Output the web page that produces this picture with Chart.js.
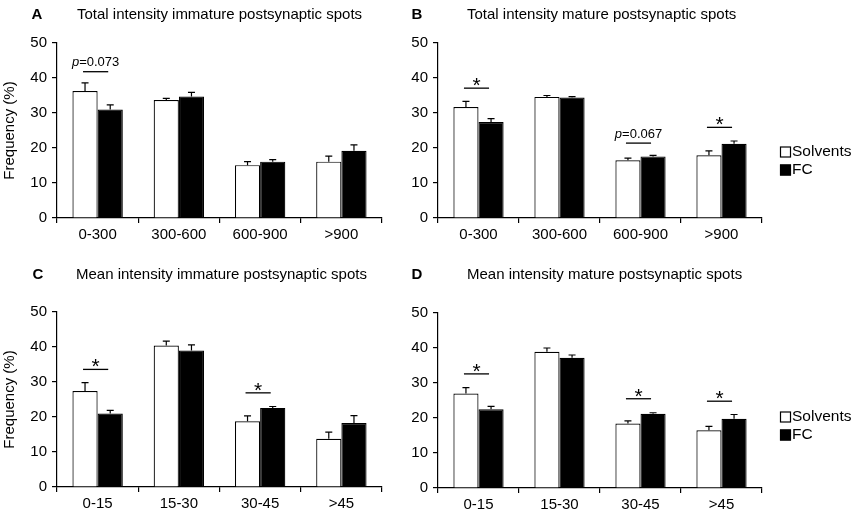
<!DOCTYPE html>
<html>
<head>
<meta charset="utf-8">
<script src="https://cdn.jsdelivr.net/npm/chart.js@4.4.0/dist/chart.umd.min.js"></script>
<style>
  body { margin: 0; background: #fff; width: 851px; height: 513px; position: relative; overflow: hidden; }
  .panel { position: absolute; }
</style>
</head>
<body>
<div class="panel" style="left:0;top:0;width:400px;height:256px"><canvas id="chartA"></canvas></div>
<div class="panel" style="left:400px;top:0;width:451px;height:256px"><canvas id="chartB"></canvas></div>
<div class="panel" style="left:0;top:256px;width:400px;height:257px"><canvas id="chartC"></canvas></div>
<div class="panel" style="left:400px;top:256px;width:451px;height:257px"><canvas id="chartD"></canvas></div>
<script>
// Data ---

const totalBins = ["0-300", "300-600", "600-900", ">900"];
const meanBins = ["0-15", "15-30", "30-45", ">45"];

// A: total intensity, immature spots
const solventsA = [36.3, 33.7, 15.1, 16.1];
const solventsErrA = [2.3, 0.5, 1.0, 1.6];
const fcA = [31.0, 34.7, 16.1, 19.2];
const fcErrA = [1.3, 1.2, 0.6, 1.7];
const sigA = [{ index: 0, level: 41.8, text: "p=0.073" }];

// B: total intensity, mature spots
const solventsB = [31.7, 34.6, 16.5, 17.9];
const solventsErrB = [1.6, 0.4, 0.6, 1.3];
const fcB = [27.4, 34.4, 17.6, 21.2];
const fcErrB = [1.0, 0.3, 0.3, 0.8];
const sigB = [
  { index: 0, level: 37.1, text: "*" },
  { index: 2, level: 21.4, text: "p=0.067" },
  { index: 3, level: 25.9, text: "*" },
];

// C: mean intensity, immature spots
const solventsC = [27.4, 40.4, 18.8, 13.8];
const solventsErrC = [2.4, 1.3, 1.5, 1.9];
const fcC = [21.0, 39.0, 22.6, 18.3];
const fcErrC = [0.9, 1.6, 0.4, 2.1];
const sigC = [
  { index: 0, level: 33.6, text: "*" },
  { index: 2, level: 26.9, text: "*" },
];

// D: mean intensity, mature spots
const solventsD = [27.0, 38.9, 18.4, 16.5];
const solventsErrD = [1.7, 1.1, 0.8, 1.1];
const fcD = [22.5, 37.2, 21.2, 19.8];
const fcErrD = [0.8, 0.8, 0.3, 1.2];
const sigD = [
  { index: 0, level: 32.6, text: "*" },
  { index: 2, level: 25.5, text: "*" },
  { index: 3, level: 24.8, text: "*" },
];

const FONT = "Arial, 'Liberation Sans', sans-serif";

// Plugins ---

const errorBars = {
  id: "errorBars",
  afterDatasetsDraw(chart) {
    const { ctx } = chart;
    const y = chart.scales.y;

    ctx.save();
    ctx.strokeStyle = "#000";
    ctx.lineWidth = 1.2;

    chart.data.datasets.forEach((ds, i) => {
      chart.getDatasetMeta(i).data.forEach((bar, j) => {
        const top = y.getPixelForValue(ds.data[j] + ds.errors[j]);

        ctx.beginPath();
        ctx.moveTo(bar.x, bar.y);
        ctx.lineTo(bar.x, top);
        ctx.moveTo(bar.x - 3.5, top);
        ctx.lineTo(bar.x + 3.5, top);
        ctx.stroke();
      });
    });

    ctx.restore();
  },
};

const sigMarks = {
  id: "sigMarks",
  afterDatasetsDraw(chart, _args, opts) {
    const { ctx } = chart;
    const y = chart.scales.y;
    const left = chart.getDatasetMeta(0).data;
    const right = chart.getDatasetMeta(1).data;

    ctx.save();
    ctx.strokeStyle = "#000";
    ctx.fillStyle = "#000";
    ctx.lineWidth = 1.3;

    (opts.marks || []).forEach((mark) => {
      const x1 = left[mark.index].x - 2;
      const x2 = right[mark.index].x - 2;
      const ly = y.getPixelForValue(mark.level);
      const mid = (x1 + x2) / 2;

      ctx.beginPath();
      ctx.moveTo(x1, ly);
      ctx.lineTo(x2, ly);
      ctx.stroke();

      if (mark.text === "*") {
        ctx.font = "21px " + FONT;
        ctx.textAlign = "center";
        ctx.textBaseline = "alphabetic";
        ctx.fillText("*", mid, ly + 4);
      } else {
        // italic "p", upright rest
        const rest = mark.text.slice(1);
        ctx.textAlign = "left";
        ctx.textBaseline = "middle";
        ctx.font = "italic 13px " + FONT;
        const wp = ctx.measureText("p").width;
        ctx.font = "13px " + FONT;
        const wr = ctx.measureText(rest).width;
        const x0 = mid - (wp + wr) / 2;

        ctx.font = "italic 13px " + FONT;
        ctx.fillText("p", x0, ly - 9);
        ctx.font = "13px " + FONT;
        ctx.fillText(rest, x0 + wp, ly - 9);
      }
    });

    ctx.restore();
  },
};

const panelHeader = {
  id: "panelHeader",
  afterDraw(chart, _args, opts) {
    const { ctx } = chart;

    ctx.save();
    ctx.fillStyle = "#000";
    ctx.textBaseline = "middle";
    ctx.textAlign = "center";
    ctx.font = "bold 15px " + FONT;
    ctx.fillText(opts.letter, opts.letterX, opts.y);
    ctx.textAlign = "left";
    ctx.font = "15px " + FONT;
    ctx.fillText(opts.title, opts.titleX, opts.y);
    ctx.restore();
  },
};

const sideLegend = {
  id: "sideLegend",
  afterDraw(chart, _args, opts) {
    if (!opts.show) return;
    const { ctx } = chart;

    ctx.save();
    ctx.textBaseline = "middle";
    ctx.textAlign = "left";
    ctx.font = "15.5px " + FONT;

    chart.data.datasets.forEach((ds, i) => {
      const cy = opts.y + i * 18;

      ctx.fillStyle = ds.backgroundColor;
      ctx.fillRect(opts.x, cy - 5.5, 11, 11);
      ctx.strokeStyle = "#000";
      ctx.lineWidth = 1.2;
      ctx.strokeRect(opts.x + 0.5, cy - 5, 10, 10);
      ctx.fillStyle = "#000";
      ctx.fillText(ds.label, opts.x + 12, cy);
    });

    ctx.restore();
  },
};

// Charts ---

function buildChart(id, cfg) {
  const datasets = [
    {
      label: "Solvents",
      data: cfg.solvents,
      errors: cfg.solventsErr,
      backgroundColor: "#ffffff",
      borderColor: "#000000",
      borderWidth: 1.2,
    },
    {
      label: "FC",
      data: cfg.fc,
      errors: cfg.fcErr,
      backgroundColor: "#000000",
      borderColor: "#000000",
      borderWidth: 1.2,
    },
  ];

  return new Chart(document.getElementById(id), {
    type: "bar",
    data: { labels: cfg.labels, datasets: datasets },
    plugins: [errorBars, sigMarks, panelHeader, sideLegend],
    options: {
      animation: false,
      responsive: true,
      maintainAspectRatio: false,
      devicePixelRatio: 1,
      datasets: {
        bar: { categoryPercentage: 0.62, barPercentage: 1.0 },
      },
      layout: {
        padding: { left: 0, top: cfg.top, right: cfg.right, bottom: 0 },
      },
      plugins: {
        legend: { display: false },
        tooltip: { enabled: false },
        sigMarks: { marks: cfg.sig },
        panelHeader: cfg.header,
        sideLegend: cfg.legend,
      },
      scales: {
        x: {
          grid: {
            display: true,
            offset: true,
            drawOnChartArea: false,
            drawTicks: true,
            tickLength: 5,
            color: "#000",
            lineWidth: 1.2,
          },
          border: { color: "#000", width: 1.2 },
          ticks: {
            color: "#000",
            padding: 3,
            maxRotation: 0,
            font: { family: FONT, size: 15 },
          },
          afterFit(scale) {
            scale.height = cfg.xHeight;
          },
        },
        y: {
          min: 0,
          max: 50,
          grid: {
            display: true,
            drawOnChartArea: false,
            drawTicks: true,
            tickLength: 5,
            color: "#000",
            lineWidth: 1.2,
          },
          border: { color: "#000", width: 1.2 },
          ticks: {
            stepSize: 10,
            color: "#000",
            padding: 5,
            font: { family: FONT, size: 15 },
          },
          title: {
            display: cfg.yTitle,
            text: "Frequency (%)",
            color: "#000",
            padding: { top: 1, bottom: 0 },
            font: { family: FONT, size: 15 },
          },
          afterFit(scale) {
            scale.width = cfg.yWidth;
          },
        },
      },
    },
  });
}

buildChart("chartA", {
  labels: totalBins,
  solvents: solventsA, solventsErr: solventsErrA,
  fc: fcA, fcErr: fcErrA,
  sig: sigA,
  top: 43, right: 18, xHeight: 38, yWidth: 57, yTitle: true,
  header: { letter: "A", letterX: 37, title: "Total intensity immature postsynaptic spots", titleX: 77, y: 15 },
  legend: { show: false },
});

buildChart("chartB", {
  labels: totalBins,
  solvents: solventsB, solventsErr: solventsErrB,
  fc: fcB, fcErr: fcErrB,
  sig: sigB,
  top: 43, right: 89, xHeight: 38, yWidth: 38, yTitle: false,
  header: { letter: "B", letterX: 17, title: "Total intensity mature postsynaptic spots", titleX: 67, y: 15 },
  legend: { show: true, x: 380, y: 152 },
});

buildChart("chartC", {
  labels: meanBins,
  solvents: solventsC, solventsErr: solventsErrC,
  fc: fcC, fcErr: fcErrC,
  sig: sigC,
  top: 56, right: 18, xHeight: 26, yWidth: 57, yTitle: true,
  header: { letter: "C", letterX: 38, title: "Mean intensity immature postsynaptic spots", titleX: 76, y: 19 },
  legend: { show: false },
});

buildChart("chartD", {
  labels: meanBins,
  solvents: solventsD, solventsErr: solventsErrD,
  fc: fcD, fcErr: fcErrD,
  sig: sigD,
  top: 57, right: 89, xHeight: 25, yWidth: 38, yTitle: false,
  header: { letter: "D", letterX: 17, title: "Mean intensity mature postsynaptic spots", titleX: 67, y: 19 },
  legend: { show: true, x: 380, y: 161 },
});
</script>
</body>
</html>
